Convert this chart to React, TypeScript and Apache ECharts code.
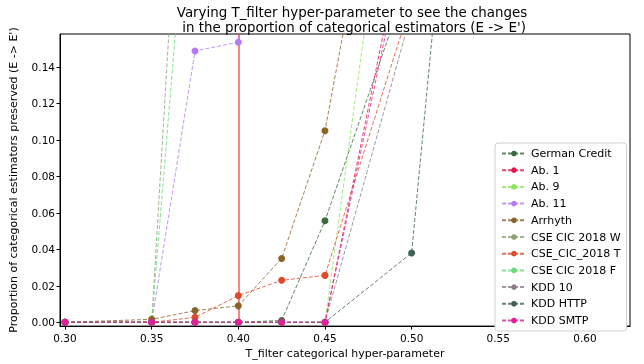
import React, { useEffect, useRef } from "react";
import * as echarts from "echarts";

const xValues = [0.3, 0.35, 0.375, 0.4, 0.425, 0.45, 0.5, 0.55, 0.6];
const seriesNames = [
  "German Credit",
  "Ab. 1",
  "Ab. 9",
  "Ab. 11",
  "Arrhyth",
  "CSE CIC 2018 W",
  "CSE_CIC_2018 T",
  "CSE CIC 2018 F",
  "KDD 10",
  "KDD HTTP",
  "KDD SMTP",
];
const germanCredit = [0, 0, 0, 0, 0.001, 0.0556, 0.193, 0.45, 0.7];
const ab1 = [0, 0, 0, 0, 0, 0, 0.235, 0.5, 0.8];
const ab9 = [0, 0, 0, 0, 0, 0, 0.35, 0.7, 0.9];
const ab11 = [0, 0, 0.1487, 0.1535, 0.5, 0.8, 0.95, 1, 1];
const arrhyth = [0, 0.0016, 0.0064, 0.009, 0.035, 0.105, 0.36, 0.7, 0.9];
const cseW = [0, 0, 0.4, 0.7, 0.85, 0.95, 1, 1, 1];
const cseT = [0, 0, 0.0027, 0.0146, 0.023, 0.0257, 0.176, 0.45, 0.7];
const cseF = [0, 0, 0.29, 0.6, 0.8, 0.9, 1, 1, 1];
const kdd10 = [0, 0, 0, 0, 0, 0, 0.17, 0.4, 0.7];
const kddHttp = [0, 0, 0, 0, 0, 0, 0.038, 0.54, 0.8];
const kddSmtp = [0, 0, 0, 0, 0, 0, 0.226, 0.5, 0.8];
const allValues = [germanCredit, ab1, ab9, ab11, arrhyth, cseW, cseT, cseF, kdd10, kddHttp, kddSmtp];
const colors = [
  "#3a6a3a",
  "#e0184a",
  "#88e858",
  "#b57af5",
  "#8c6329",
  "#8aa274",
  "#df4a2a",
  "#66dd77",
  "#8d7b8a",
  "#3f6055",
  "#e0209a",
];
const xTicks = [0.3, 0.35, 0.4, 0.45, 0.5, 0.55, 0.6];
const yTicks = [0, 0.02, 0.04, 0.06, 0.08, 0.1, 0.12, 0.14];
const chosenThreshold = 0.4;

const FONT = "DejaVu Sans";

export default function App() {
  const ref = useRef<HTMLDivElement>(null);
  useEffect(() => {
    if (!ref.current) return;
    const chart = echarts.init(ref.current, null, { renderer: "svg" });
    const series: any[] = seriesNames.map((name, i) => ({
      name,
      type: "line",
      data: xValues.map((x, j) => [x, allValues[i][j]]),
      symbol: "circle",
      symbolSize: 7,
      showSymbol: true,
      clip: true,
      itemStyle: { color: colors[i], opacity: 1 },
      lineStyle: { color: colors[i], width: 1, type: [4, 2], opacity: 0.8 },
      emphasis: { disabled: true },
    }));
    series[0].markLine = {
      silent: true,
      symbol: "none",
      label: { show: false },
      lineStyle: { color: "#ff2020", width: 1.5, type: "solid", opacity: 0.75 },
      data: [{ xAxis: chosenThreshold }],
      z: 1,
    };
    chart.setOption({
      animation: false,
      textStyle: { fontFamily: FONT },
      title: {
        text: "Varying T_filter hyper-parameter to see the changes\n in the proportion of categorical estimators (E -> E')",
        left: 347,
        top: 0,
        textAlign: "center",
        textStyle: { fontFamily: FONT, fontSize: 13.4, fontWeight: "normal", color: "#000", lineHeight: 15 },
      },
      grid: { left: 59, right: 14, top: 34, bottom: 30, show: true, borderColor: "#000", borderWidth: 1, backgroundColor: "transparent" },
      legend: {
        orient: "vertical",
        left: 495,
        top: 143,
        data: seriesNames,
        itemWidth: 24,
        itemHeight: 7,
        itemGap: 5.7,
        padding: [5, 6, 5, 6],
        backgroundColor: "#fff",
        borderColor: "#d0d0d0",
        borderWidth: 1,
        borderRadius: 3,
        textStyle: { fontFamily: FONT, fontSize: 11, color: "#000" },
      },
      xAxis: {
        type: "value",
        min: 0.2971,
        max: 0.626,
        name: "T_filter categorical hyper-parameter",
        nameLocation: "middle",
        nameGap: 19,
        nameTextStyle: { fontFamily: FONT, fontSize: 11, color: "#000" },
        axisLine: { show: true, onZero: false, lineStyle: { color: "#000", width: 1 } },
        axisTick: { show: true, length: 3.5, lineStyle: { color: "#000" }, customValues: xTicks },
        axisLabel: {
          color: "#000",
          fontSize: 10.5,
          fontFamily: FONT,
          margin: 6,
          customValues: xTicks,
          formatter: (v: number) => v.toFixed(2),
        },
        splitLine: { show: false },
      },
      yAxis: {
        type: "value",
        min: -0.0021,
        max: 0.158,
        name: "Proportion of categorical estimators preserved (E -> E')",
        nameLocation: "middle",
        nameGap: 41,
        nameTextStyle: { fontFamily: FONT, fontSize: 11, color: "#000" },
        axisLine: { show: true, onZero: false, lineStyle: { color: "#000", width: 1 } },
        axisTick: { show: true, length: 3.5, lineStyle: { color: "#000" }, customValues: yTicks },
        axisLabel: {
          color: "#000",
          fontSize: 10.5,
          fontFamily: FONT,
          margin: 5,
          customValues: yTicks,
          formatter: (v: number) => v.toFixed(2),
        },
        splitLine: { show: false },
      },
      series,
    });
    return () => chart.dispose();
  }, []);
  return <div ref={ref} style={{ width: 644, height: 364, position: "fixed", left: 0, top: 0 }} />;
}
